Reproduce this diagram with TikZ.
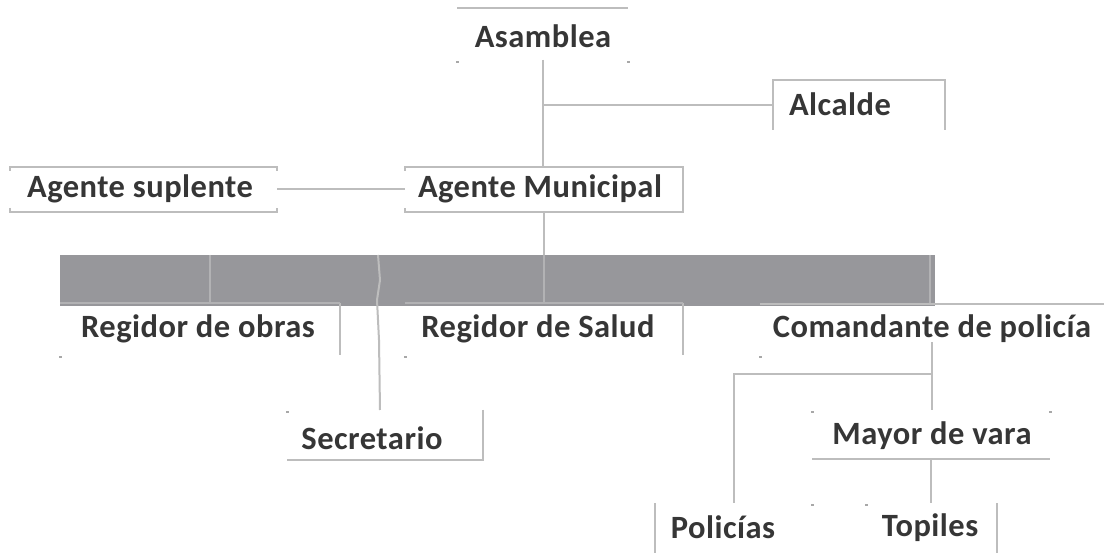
\documentclass[tikz,border=0pt]{standalone}
\usepackage{fontspec}
\setmainfont{Carlito}[LetterSpace=1.5]
\definecolor{txt}{HTML}{363636}
\definecolor{lin}{HTML}{BDBDBD}
\definecolor{bandc}{HTML}{97979B}
\definecolor{bandln}{HTML}{B2B2B4}
\definecolor{tickc}{HTML}{A8A8A8}
\begin{document}
\begin{tikzpicture}[x=1pt,y=-1pt,
  lbl/.style={font=\fontsize{32.5}{38}\selectfont\bfseries, text=txt, inner sep=0pt},
  bx/.style={inner sep=0pt, outer sep=0pt, minimum width=#1},
  ln/.style={draw=lin, line width=2pt},
  inln/.style={draw=bandln, line width=2pt},
  tk/.style={fill=tickc, draw=none}]
\useasboundingbox[fill=white] (0,0) rectangle (1104,553);

% boxes (invisible frames)
\node[bx=171pt, minimum height=52pt] (asm) at (542.5,34) {};
\node[bx=172pt, minimum height=50pt] (alc) at (859,105) {};
\node[bx=267pt, minimum height=45pt] (ags) at (143.5,189.5) {};
\node[bx=278pt, minimum height=45pt] (agm) at (544,189.5) {};
\node[bx=875pt, minimum height=51pt, fill=bandc] (band) at (497.5,280.5) {};
\node[bx=280pt, minimum height=52pt] (rob) at (200,329) {};
\node[bx=278pt, minimum height=52pt] (rsa) at (544,329) {};
\node[bx=344pt, minimum height=51pt] (com) at (932,329.5) {};
\node[bx=196pt, minimum height=50pt] (sec) at (385,435) {};
\node[bx=238pt, minimum height=49pt] (myv) at (931,434.5) {};
\node[bx=157pt, minimum height=50pt] (pol) at (733.5,528) {};
\node[bx=131pt, minimum height=50pt] (top) at (931.5,528) {};

% box borders (partial, as in the scan)
\draw[ln] (asm.north west) -- (asm.north east);
\draw[ln] (alc.south west) -- (alc.north west) -- (alc.north east) -- (alc.south east);
\draw[ln] ([yshift=-4pt]ags.north west) -- (ags.north west) -- (ags.north east) -- ++(0,4);
\draw[ln] ([yshift=4pt]ags.south west) -- (ags.south west) -- (ags.south east) -- ++(0,-4);
\draw[ln] ([yshift=-4pt]agm.north west) -- (agm.north west) -- (agm.north east) -- (agm.south east) -- (agm.south west) -- ++(0,-4);
\draw[ln] (rob.north east) -- (rob.south east);
\draw[ln] (rsa.north east) -- (rsa.south east);
\draw[ln] (com.north west) -- (com.north east);
\draw[ln] (sec.north east) -- (sec.south east) -- (sec.south west);
\draw[ln] (myv.south west) -- (myv.south east);
\draw[ln] (pol.north west) -- (pol.south west);
\draw[ln] (top.north east) -- (top.south east);

% band inner lines
\draw[inln] (rob.north west) -- (rob.north east);
\draw[inln] (rsa.north west) -- (rsa.north east);
\draw[inln] (210,255) -- (210,303);
\draw[inln] (agm.south |- band.north) -- (agm.south |- rsa.north);
\draw[inln] (930,255) -- (930,303);

% corner ticks
\foreach \p in {asm.south west, asm.south east, rob.south west, rsa.south west, com.south west,
  sec.north west, myv.north west, myv.north east, pol.north east, pol.south east,
  top.north west, top.south west}
  \fill[tk] ([xshift=-1.5pt,yshift=-1pt]\p) rectangle ++(3,2);

% connectors
\draw[ln] (asm.south) -- (asm.south |- agm.north);
\draw[ln] (asm.south |- alc.west) -- (alc.west);
\draw[ln] (ags.east) -- (agm.west);
\draw[ln] (agm.south) -- (agm.south |- band.north);
\coordinate (s0) at (378,255);
\coordinate (s1) at (380,410);
\draw[ln] (s0) -- (380,280) -- (377,300) -- (379,340) -- (s1);
\draw[ln] ([yshift=-13pt]com.center) -- (com.center |- myv.north);
\coordinate (br) at (932,374);
\draw[ln] (br) -| (pol.north);
\draw[ln] (myv.south) -- (myv.south |- top.north);

% labels
\node[lbl] (tasm) at (543,36) {Asamblea};
\node[lbl] (talc) at (840,104) {Alcalde};
\node[lbl] (tags) at (140,189) {Agente suplente};
\node[lbl] (tagm) at (540,189) {Agente Municipal};
\node[lbl] (trob) at (198,329) {Regidor de obras};
\node[lbl] (trsa) at (538,329) {Regidor de Salud};
\node[lbl] (tcom) at (932,329) {Comandante de policía};
\node[lbl] (tsec) at (372,438) {Secretario};
\node[lbl] (tmyv) at (932,436) {Mayor de vara};
\node[lbl] (tpol) at (723,527) {Policías};
\node[lbl] (ttop) at (930,528) {Topiles};
\end{tikzpicture}
\end{document}
